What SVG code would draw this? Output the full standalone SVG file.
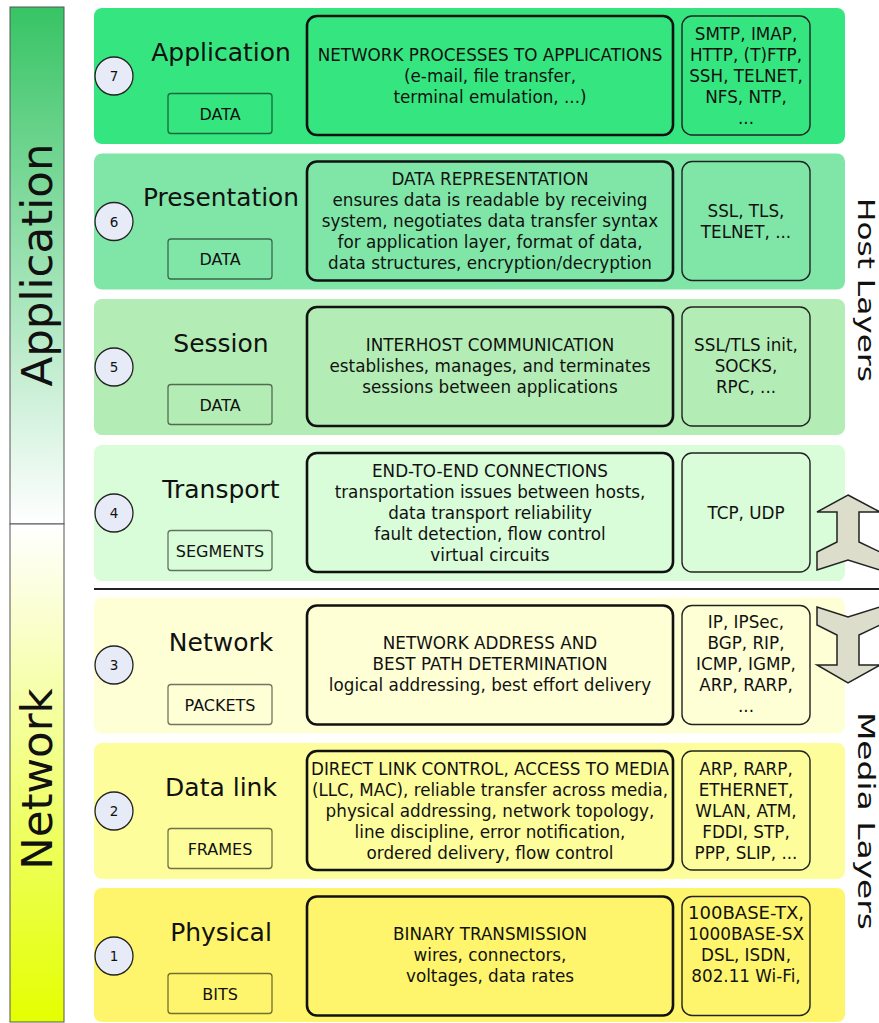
<svg xmlns="http://www.w3.org/2000/svg" width="879" height="1023" viewBox="0 0 879 1023">
<defs>
<linearGradient id="gApp" x1="0" y1="0" x2="0" y2="1">
<stop offset="0" stop-color="#37c464"/>
<stop offset="1" stop-color="#ffffff"/>
</linearGradient>
<linearGradient id="gNet" x1="0" y1="0" x2="0" y2="1">
<stop offset="0" stop-color="#ffffff"/>
<stop offset="1" stop-color="#e4ff00"/>
</linearGradient>
<style>
text{font-family:"DejaVu Sans","Noto Sans",sans-serif;fill:#111}
.mid{fill:none;stroke:#111;stroke-width:2.6}
.rt{fill:none;stroke:#222;stroke-width:1.4}
.pdu{fill:none;stroke:#000;stroke-opacity:.55;stroke-width:1.3}
.num{fill:#e6ebf7;stroke:#222;stroke-width:1.3}
.name{font-size:25px;text-anchor:middle}
.t{font-size:16.8px;text-anchor:middle}
.pt{font-size:16px;text-anchor:middle}
.n{font-size:13.5px;text-anchor:middle}
.arr{fill:#dcdecb;stroke:#222;stroke-width:1.5;stroke-linejoin:miter}
</style>
</defs>
<rect width="879" height="1023" fill="#ffffff"/>

<g id="sidebar">
<rect x="10" y="7" width="54" height="517" fill="url(#gApp)" stroke="#555" stroke-width="1"/>
<rect x="10" y="524" width="54" height="498" fill="url(#gNet)" stroke="#555" stroke-width="1"/>
<text transform="translate(52,265) rotate(-90)" font-size="43.5" text-anchor="middle">Application</text>
<text transform="translate(52,779) rotate(-90)" font-size="43.5" text-anchor="middle">Network</text>
</g>

<g id="side-labels">
<text transform="translate(858,290) rotate(90)" font-size="23.5" text-anchor="middle" textLength="184" lengthAdjust="spacingAndGlyphs">Host Layers</text>
<text transform="translate(858,821) rotate(90)" font-size="23.5" text-anchor="middle" textLength="218" lengthAdjust="spacingAndGlyphs">Media Layers</text>
</g>

<g id="layer7">
<rect x="94" y="8" width="751" height="136" rx="8" fill="#35e680"/>
<circle class="num" cx="114" cy="76" r="19"/>
<text class="n" x="114" y="81">7</text>
<text class="name" x="221" y="60.5">Application</text>
<rect class="pdu" x="168" y="93.5" width="104" height="40" rx="3"/>
<text class="pt" x="220" y="119.5">DATA</text>
<rect class="mid" x="307" y="16" width="366" height="119" rx="10"/>
<text class="t" x="490" y="60.5">NETWORK PROCESSES TO APPLICATIONS</text>
<text class="t" x="490" y="81.5">(e-mail, file transfer,</text>
<text class="t" x="490" y="102.5">terminal emulation, ...)</text>
<rect class="rt" x="682" y="16" width="128" height="119" rx="10"/>
<text class="t" x="746" y="40">SMTP, IMAP,</text>
<text class="t" x="746" y="61">HTTP, (T)FTP,</text>
<text class="t" x="746" y="82">SSH, TELNET,</text>
<text class="t" x="746" y="103">NFS, NTP,</text>
<text class="t" x="746" y="124">...</text>
</g>

<g id="layer6">
<rect x="94" y="153.5" width="751" height="136" rx="8" fill="#80e6a8"/>
<circle class="num" cx="114" cy="221.5" r="19"/>
<text class="n" x="114" y="226.5">6</text>
<text class="name" x="221" y="206" textLength="156" lengthAdjust="spacingAndGlyphs">Presentation</text>
<rect class="pdu" x="168" y="239" width="104" height="40" rx="3"/>
<text class="pt" x="220" y="265">DATA</text>
<rect class="mid" x="307" y="161.5" width="366" height="119" rx="10"/>
<text class="t" x="490" y="185">DATA REPRESENTATION</text>
<text class="t" x="490" y="206">ensures data is readable by receiving</text>
<text class="t" x="490" y="227">system, negotiates data transfer syntax</text>
<text class="t" x="490" y="248">for application layer, format of data,</text>
<text class="t" x="490" y="269">data structures, encryption/decryption</text>
<rect class="rt" x="682" y="161.5" width="128" height="119" rx="10"/>
<text class="t" x="746" y="216.5">SSL, TLS,</text>
<text class="t" x="746" y="237.5">TELNET, ...</text>
</g>

<g id="layer5">
<rect x="94" y="299" width="751" height="136" rx="8" fill="#b3edb5"/>
<circle class="num" cx="114" cy="367" r="19"/>
<text class="n" x="114" y="372">5</text>
<text class="name" x="221" y="351.5">Session</text>
<rect class="pdu" x="168" y="384.5" width="104" height="40" rx="3"/>
<text class="pt" x="220" y="410.5">DATA</text>
<rect class="mid" x="307" y="307" width="366" height="119" rx="10"/>
<text class="t" x="490" y="350.5">INTERHOST COMMUNICATION</text>
<text class="t" x="490" y="371.5">establishes, manages, and terminates</text>
<text class="t" x="490" y="392.5">sessions between applications</text>
<rect class="rt" x="682" y="307" width="128" height="119" rx="10"/>
<text class="t" x="746" y="350.5">SSL/TLS init,</text>
<text class="t" x="746" y="371.5">SOCKS,</text>
<text class="t" x="746" y="392.5">RPC, ...</text>
</g>

<g id="layer4">
<rect x="94" y="445" width="751" height="136" rx="8" fill="#d9fcd9"/>
<circle class="num" cx="114" cy="513" r="19"/>
<text class="n" x="114" y="518">4</text>
<text class="name" x="221" y="497.5">Transport</text>
<rect class="pdu" x="168" y="530.5" width="104" height="40" rx="3"/>
<text class="pt" x="220" y="556.5">SEGMENTS</text>
<rect class="mid" x="307" y="453" width="366" height="119" rx="10"/>
<text class="t" x="490" y="476.5">END-TO-END CONNECTIONS</text>
<text class="t" x="490" y="497.5">transportation issues between hosts,</text>
<text class="t" x="490" y="518.5">data transport reliability</text>
<text class="t" x="490" y="539.5">fault detection, flow control</text>
<text class="t" x="490" y="560.5">virtual circuits</text>
<rect class="rt" x="682" y="453" width="128" height="119" rx="10"/>
<text class="t" x="746" y="518.5">TCP, UDP</text>
</g>

<g id="layer3">
<rect x="94" y="597.5" width="751" height="136" rx="8" fill="#ffffd6"/>
<circle class="num" cx="114" cy="665" r="19"/>
<text class="n" x="114" y="670">3</text>
<text class="name" x="221" y="651">Network</text>
<rect class="pdu" x="168" y="684.5" width="104" height="40" rx="3"/>
<text class="pt" x="220" y="710.5">PACKETS</text>
<rect class="mid" x="307" y="605.5" width="366" height="119" rx="10"/>
<text class="t" x="490" y="649">NETWORK ADDRESS AND</text>
<text class="t" x="490" y="670">BEST PATH DETERMINATION</text>
<text class="t" x="490" y="691">logical addressing, best effort delivery</text>
<rect class="rt" x="682" y="605.5" width="128" height="119" rx="10"/>
<text class="t" x="746" y="628">IP, IPSec,</text>
<text class="t" x="746" y="649">BGP, RIP,</text>
<text class="t" x="746" y="670">ICMP, IGMP,</text>
<text class="t" x="746" y="691">ARP, RARP,</text>
<text class="t" x="746" y="712">...</text>
</g>

<g id="layer2">
<rect x="94" y="743" width="751" height="136" rx="8" fill="#fdfd9c"/>
<circle class="num" cx="114" cy="811" r="19"/>
<text class="n" x="114" y="816">2</text>
<text class="name" x="221" y="795.5">Data link</text>
<rect class="pdu" x="168" y="828.5" width="104" height="40" rx="3"/>
<text class="pt" x="220" y="854.5">FRAMES</text>
<rect class="mid" x="307" y="751" width="366" height="119" rx="10"/>
<text class="t" x="490" y="774.5" textLength="358" lengthAdjust="spacingAndGlyphs">DIRECT LINK CONTROL, ACCESS TO MEDIA</text>
<text class="t" x="490" y="795.5" textLength="356" lengthAdjust="spacingAndGlyphs">(LLC, MAC), reliable transfer across media,</text>
<text class="t" x="490" y="816.5">physical addressing, network topology,</text>
<text class="t" x="490" y="837.5">line discipline, error notification,</text>
<text class="t" x="490" y="858.5">ordered delivery, flow control</text>
<rect class="rt" x="682" y="751" width="128" height="119" rx="10"/>
<text class="t" x="746" y="774.5">ARP, RARP,</text>
<text class="t" x="746" y="795.5">ETHERNET,</text>
<text class="t" x="746" y="816.5">WLAN, ATM,</text>
<text class="t" x="746" y="837.5">FDDI, STP,</text>
<text class="t" x="746" y="858.5">PPP, SLIP, ...</text>
</g>

<g id="layer1">
<rect x="94" y="888" width="751" height="134" rx="8" fill="#fff56c"/>
<circle class="num" cx="114" cy="956" r="19"/>
<text class="n" x="114" y="961">1</text>
<text class="name" x="221" y="940.5">Physical</text>
<rect class="pdu" x="168" y="973.5" width="104" height="40" rx="3"/>
<text class="pt" x="220" y="999.5">BITS</text>
<rect class="mid" x="307" y="896.5" width="366" height="119" rx="10"/>
<text class="t" x="490" y="940">BINARY TRANSMISSION</text>
<text class="t" x="490" y="961">wires, connectors,</text>
<text class="t" x="490" y="982">voltages, data rates</text>
<rect class="rt" x="682" y="896.5" width="128" height="119" rx="10"/>
<text class="t" x="746" y="919" textLength="116" lengthAdjust="spacingAndGlyphs">100BASE-TX,</text>
<text class="t" x="746" y="940" textLength="116" lengthAdjust="spacingAndGlyphs">1000BASE-SX</text>
<text class="t" x="746" y="961">DSL, ISDN,</text>
<text class="t" x="746" y="982">802.11 Wi-Fi,</text>
</g>

<g id="connectors">
<line x1="94" y1="589" x2="879" y2="589" stroke="#222" stroke-width="2"/>
<polygon class="arr" points="848,495 880,512 859,512 859,542 880,552 880,570 848,560 817,570 817,552 837,542 837,512 817,512"/>
<polygon class="arr" points="817,607 848,617 880,607 880,625 859,635 859,665 880,665 848,683 817,665 837,665 837,635 817,625"/>
</g>
</svg>
